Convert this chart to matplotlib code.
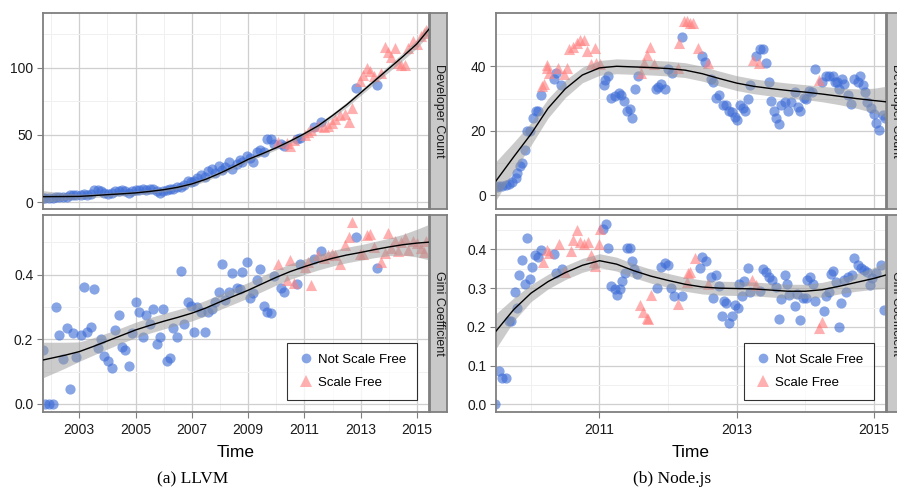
import numpy as np
import matplotlib
matplotlib.use("Agg")
import matplotlib.pyplot as plt
from matplotlib.lines import Line2D

plt.rcParams['font.family'] = ['Liberation Sans', 'DejaVu Sans']

# ---------------- LLVM data ----------------
llvm_t = [2001.72, 2001.79, 2001.94, 2002.08, 2002.17, 2002.29, 2002.41, 2002.55, 2002.67, 2002.79,
          2002.90, 2003.05, 2003.17, 2003.28, 2003.40, 2003.53, 2003.65, 2003.77, 2003.89, 2004.03,
          2004.15, 2004.27, 2004.40, 2004.52, 2004.63, 2004.75, 2004.87, 2005.01, 2005.13, 2005.25,
          2005.37, 2005.51, 2005.63, 2005.75, 2005.86, 2005.98, 2006.10, 2006.22, 2006.34, 2006.48,
          2006.60, 2006.72, 2006.85, 2006.96, 2007.08, 2007.20, 2007.32, 2007.46, 2007.58, 2007.70,
          2007.84, 2007.96, 2008.08, 2008.19, 2008.31, 2008.43, 2008.60, 2008.72, 2008.80, 2008.95,
          2009.07, 2009.19, 2009.31, 2009.43, 2009.56, 2009.68, 2009.80, 2009.93, 2010.05, 2010.17,
          2010.29, 2010.38, 2010.50, 2010.64, 2010.75, 2010.86, 2011.01, 2011.13, 2011.24, 2011.36,
          2011.48, 2011.59, 2011.71, 2011.83, 2011.99, 2012.10, 2012.28, 2012.45, 2012.60, 2012.69,
          2012.83, 2012.96, 2013.08, 2013.22, 2013.34, 2013.46, 2013.59, 2013.73, 2013.85, 2013.96,
          2014.08, 2014.23, 2014.34, 2014.43, 2014.58, 2014.67, 2014.85, 2015.00, 2015.15, 2015.25,
          2015.33]
llvm_gini = [0.167, 0.0, 0.0, 0.0, 0.30, 0.214, 0.139, 0.234, 0.046, 0.219,
             0.146, 0.214, 0.361, 0.224, 0.239, 0.356, 0.174, 0.20, 0.149, 0.134,
             0.11, 0.229, 0.276, 0.177, 0.167, 0.118, 0.219, 0.315, 0.284, 0.206,
             0.276, 0.247, 0.293, 0.186, 0.206, 0.293, 0.134, 0.143, 0.234, 0.206,
             0.413, 0.247, 0.317, 0.304, 0.222, 0.30, 0.284, 0.224, 0.285, 0.293,
             0.317, 0.348, 0.432, 0.322, 0.348, 0.405, 0.36, 0.356, 0.408, 0.438,
             0.329, 0.345, 0.384, 0.418, 0.304, 0.285, 0.281, 0.396, 0.432, 0.36,
             0.346, 0.384, 0.446, 0.374, 0.372, 0.432, 0.425, 0.44, 0.368, 0.449,
             0.46, 0.475, 0.453, 0.46, 0.463, 0.46, 0.432, 0.492, 0.518, 0.562,
             0.518, 0.463, 0.463, 0.523, 0.525, 0.487, 0.422, 0.44, 0.467, 0.528,
             0.482, 0.505, 0.474, 0.50, 0.513, 0.477, 0.503, 0.498, 0.482, 0.47,
             0.503]
llvm_dev = [3, 3, 3, 3, 4, 4, 4, 4, 5, 5,
            5, 5, 6, 5, 6, 9, 9, 8, 7, 6,
            7, 8, 8, 9, 8, 7, 8, 9, 9, 10,
            9, 10, 10, 8, 7, 8, 9, 10, 10, 11,
            11, 13, 16, 15, 16, 18, 20, 19, 23, 25,
            22, 27, 24, 26, 30, 25, 28, 31, 30, 34,
            33, 30, 37, 39, 37, 47, 47, 43, 45, 43,
            42, 44, 42, 46, 47, 48, 50, 52, 54, 56,
            57, 60, 56, 57, 59, 62, 65, 66, 60, 70,
            85, 90, 95, 100, 98, 94, 87, 96, 116, 112,
            108, 115, 104, 102, 102, 115, 120, 118, 124, 126,
            128]
llvm_sf = [0] * 68 + [1, 0, 0, 1, 1, 1, 0, 0, 1, 1, 1, 0, 1, 0, 1, 1, 1, 1, 1, 1, 1, 1,
                      0, 1, 1, 1, 1, 1, 0] + [1] * 14

llvm_fit_t = [2001.71, 2002.5, 2003.0, 2003.5, 2004.0, 2004.5, 2005.0, 2005.5, 2006.0, 2006.5,
              2007.0, 2007.5, 2008.0, 2008.5, 2009.0, 2009.5, 2010.0, 2010.5, 2011.0, 2011.5,
              2012.0, 2012.5, 2013.0, 2013.5, 2014.0, 2014.5, 2015.0, 2015.43]
llvm_dev_fit = [4.0, 4.1, 4.2, 4.8, 5.5, 6.1, 6.8, 7.9, 9.2, 11.0,
                13.5, 17.0, 21.5, 26.5, 31.8, 36.0, 40.5, 45.5, 51.0, 57.0,
                64.5, 72.5, 81.5, 90.5, 99.5, 108.5, 118.0, 129.0]
llvm_dev_se = [4.5, 2.5, 1.8, 1.5, 1.5, 1.5, 1.5, 1.5, 1.5, 1.5,
               1.5, 1.5, 1.5, 1.5, 1.5, 1.5, 1.5, 1.5, 1.6, 1.7,
               1.8, 1.9, 2.0, 2.2, 2.5, 2.8, 3.2, 4.0]
llvm_gini_fit = [0.136, 0.151, 0.162, 0.178, 0.195, 0.212, 0.229, 0.243, 0.256, 0.268,
                 0.281, 0.297, 0.316, 0.334, 0.352, 0.372, 0.392, 0.410, 0.425, 0.439,
                 0.451, 0.461, 0.469, 0.478, 0.486, 0.493, 0.498, 0.501]
llvm_gini_se = [0.055, 0.04, 0.03, 0.027, 0.025, 0.024, 0.024, 0.024, 0.024, 0.024,
                0.024, 0.024, 0.024, 0.024, 0.024, 0.024, 0.024, 0.024, 0.024, 0.024,
                0.024, 0.024, 0.024, 0.025, 0.027, 0.032, 0.043, 0.055]

# ---------------- Node.js data ----------------
node_dev_t = [2009.50, 2009.53, 2009.58, 2009.63, 2009.68, 2009.73, 2009.78, 2009.80, 2009.84, 2009.87,
              2009.91, 2009.94, 2009.99, 2010.03, 2010.07, 2010.11, 2010.15, 2010.19, 2010.24, 2010.27,
              2010.33, 2010.37, 2010.40, 2010.44, 2010.48, 2010.52, 2010.55, 2010.61, 2010.67, 2010.72,
              2010.77, 2010.82, 2010.87, 2010.94, 2010.95, 2011.01, 2011.06, 2011.08, 2011.13, 2011.17,
              2011.23, 2011.28, 2011.32, 2011.36, 2011.40, 2011.45, 2011.47, 2011.52, 2011.56, 2011.60,
              2011.65, 2011.70, 2011.74, 2011.79, 2011.82, 2011.86, 2011.90, 2011.96, 2012.00, 2012.06,
              2012.14, 2012.16, 2012.21, 2012.23, 2012.28, 2012.32, 2012.37, 2012.43, 2012.49, 2012.54,
              2012.59, 2012.62, 2012.66, 2012.70, 2012.75, 2012.80, 2012.84, 2012.89, 2012.94, 2012.98,
              2013.01, 2013.05, 2013.09, 2013.12, 2013.16, 2013.20, 2013.24, 2013.28, 2013.32, 2013.34,
              2013.38, 2013.43, 2013.47, 2013.50, 2013.54, 2013.58, 2013.62, 2013.65, 2013.70, 2013.75,
              2013.80, 2013.85, 2013.90, 2013.93, 2013.98, 2014.02, 2014.06, 2014.10, 2014.15, 2014.20,
              2014.25, 2014.30, 2014.35, 2014.40, 2014.43, 2014.47, 2014.50, 2014.54, 2014.57, 2014.62,
              2014.67, 2014.71, 2014.77, 2014.80, 2014.84, 2014.88, 2014.91, 2014.96, 2015.00, 2015.04,
              2015.08, 2015.13, 2015.16, 2010.16, 2010.23]
node_dev = [2.5, 3.0, 3.0, 3.3, 3.5, 4.3, 5.5, 6.9, 9.0, 10.0,
            14.1, 20.0, 20.0, 24.0, 26.0, 26.0, 31.0, 34.6, 39.5, 38.0,
            36.0, 38.0, 39.5, 34.3, 37.5, 39.5, 45.4, 46.0, 47.2, 48.2,
            48.0, 44.6, 40.8, 45.7, 41.0, 40.8, 34.3, 35.8, 37.0, 30.2,
            30.7, 31.7, 31.0, 29.2, 26.0, 26.7, 24.0, 33.0, 36.9, 38.0,
            41.0, 43.5, 46.0, 40.8, 33.0, 33.5, 34.5, 33.0, 39.2, 38.0,
            39.5, 47.2, 49.1, 54.0, 54.0, 53.5, 53.4, 45.7, 43.3, 41.2,
            41.0, 36.0, 35.0, 30.2, 31.0, 28.1, 28.0, 26.3, 25.8, 24.3,
            23.3, 28.0, 27.0, 26.0, 30.0, 34.3, 42.0, 43.3, 41.0, 45.2,
            45.2, 41.0, 35.0, 29.1, 26.0, 24.0, 22.2, 28.0, 29.0, 26.0,
            28.8, 31.9, 27.3, 26.3, 30.2, 30.0, 32.2, 32.0, 39.2, 35.8,
            35.0, 37.0, 37.0, 37.0, 35.0, 35.0, 33.0, 36.0, 34.5, 31.2,
            28.4, 36.0, 35.2, 37.0, 34.3, 32.0, 29.0, 27.0, 25.3, 22.4,
            20.2, 25.0, 24.0, 34.0, 40.3]
node_dev_sf = [0] * 17 + [1, 1, 1, 0, 0, 1, 0, 1, 1, 1, 1, 1, 1,
                          1, 1, 1, 1, 1, 1, 0, 0, 0, 0,
                          0, 0, 0, 0, 0, 0, 0, 0, 0, 1,
                          1, 1, 1, 1, 0, 0, 0, 0, 0, 0,
                          1, 1, 0, 1, 1, 1, 1, 1, 0, 0,
                          1] + [0] * 15 + [1, 0, 1] + [0] * 20 + [1] + [0] * 23 + [1, 1]

node_gini_t = [2009.48, 2009.53, 2009.58, 2009.63, 2009.68, 2009.71, 2009.76, 2009.80, 2009.83, 2009.87,
               2009.91, 2009.94, 2009.98, 2010.02, 2010.06, 2010.10, 2010.14, 2010.17, 2010.23, 2010.27,
               2010.33, 2010.37, 2010.41, 2010.45, 2010.50, 2010.58, 2010.62, 2010.67, 2010.72, 2010.77,
               2010.83, 2010.87, 2010.92, 2010.94, 2010.99, 2011.01, 2011.05, 2011.10, 2011.13, 2011.17,
               2011.22, 2011.25, 2011.30, 2011.33, 2011.37, 2011.40, 2011.44, 2011.47, 2011.51, 2011.54,
               2011.59, 2011.64, 2011.69, 2011.71, 2011.75, 2011.84, 2011.90, 2011.95, 2012.00, 2012.05,
               2012.09, 2012.14, 2012.20, 2012.27, 2012.29, 2012.32, 2012.39, 2012.47, 2012.50, 2012.55,
               2012.59, 2012.62, 2012.66, 2012.70, 2012.75, 2012.78, 2012.81, 2012.85, 2012.89, 2012.93,
               2012.97, 2013.02, 2013.04, 2013.08, 2013.11, 2013.16, 2013.19, 2013.23, 2013.28, 2013.34,
               2013.39, 2013.43, 2013.48, 2013.51, 2013.57, 2013.62, 2013.65, 2013.70, 2013.74, 2013.77,
               2013.85, 2013.88, 2013.92, 2013.97, 2014.01, 2014.03, 2014.07, 2014.11, 2014.15, 2014.20,
               2014.24, 2014.27, 2014.31, 2014.35, 2014.38, 2014.41, 2014.45, 2014.49, 2014.52, 2014.56,
               2014.60, 2014.63, 2014.68, 2014.72, 2014.77, 2014.81, 2014.86, 2014.90, 2014.94, 2014.98,
               2015.04, 2015.10, 2015.15]
node_gini = [0.0, 0.085, 0.068, 0.068, 0.215, 0.215, 0.289, 0.249, 0.334, 0.372,
             0.31, 0.43, 0.323, 0.355, 0.385, 0.381, 0.398, 0.368, 0.398, 0.39,
             0.387, 0.338, 0.415, 0.35, 0.342, 0.395, 0.424, 0.45, 0.42, 0.415,
             0.42, 0.385, 0.368, 0.358, 0.415, 0.454, 0.454, 0.467, 0.403, 0.306,
             0.299, 0.283, 0.299, 0.318, 0.34, 0.403, 0.403, 0.37, 0.35, 0.337,
             0.256, 0.239, 0.222, 0.22, 0.282, 0.30, 0.355, 0.365, 0.36, 0.30,
             0.28, 0.258, 0.28, 0.316, 0.34, 0.342, 0.377, 0.352, 0.381, 0.37,
             0.31, 0.329, 0.275, 0.334, 0.306, 0.228, 0.266, 0.262, 0.211, 0.228,
             0.256, 0.25, 0.31, 0.28, 0.318, 0.352, 0.289, 0.32, 0.307, 0.292,
             0.349, 0.342, 0.329, 0.32, 0.303, 0.22, 0.272, 0.334, 0.312, 0.282,
             0.253, 0.286, 0.217, 0.275, 0.275, 0.32, 0.329, 0.31, 0.266, 0.196,
             0.213, 0.24, 0.28, 0.29, 0.336, 0.345, 0.316, 0.20, 0.262, 0.322,
             0.29, 0.33, 0.333, 0.378, 0.36, 0.352, 0.346, 0.342, 0.308, 0.327,
             0.338, 0.36, 0.243]
node_gini_sf = [0] * 17 + [1, 1, 1, 0, 0, 1, 0, 1, 1, 1, 1, 1, 1,
                           1, 1, 1, 1, 1, 1, 0, 0, 0, 0,
                           0, 0, 0, 0, 0, 0, 0, 0, 0, 0,
                           1, 1, 1, 1, 1, 0, 0, 0, 0, 0,
                           0, 1, 0, 1, 1, 1, 1, 0, 0, 0,
                           1] + [0] * 16 + [1, 1] + [0] * 20 + [1, 1] + [0] * 22

node_fit_t = [2009.49, 2009.75, 2010.0, 2010.25, 2010.5, 2010.75, 2011.0, 2011.25, 2011.5, 2011.75,
              2012.0, 2012.25, 2012.5, 2012.75, 2013.0, 2013.25, 2013.5, 2013.75, 2014.0, 2014.25,
              2014.5, 2014.75, 2015.0, 2015.18]
node_dev_fit = [4.5, 12.0, 19.0, 27.0, 33.0, 37.3, 39.5, 40.0, 39.8, 39.6,
                39.3, 38.8, 37.7, 36.2, 34.8, 33.8, 33.1, 32.5, 32.0, 31.4,
                30.7, 30.0, 29.4, 29.0]
node_dev_se = [6.0, 4.5, 3.5, 3.0, 2.7, 2.4, 2.3, 2.3, 2.3, 2.3,
               2.3, 2.3, 2.3, 2.3, 2.3, 2.3, 2.3, 2.3, 2.3, 2.4,
               2.6, 3.0, 3.8, 4.8]
node_gini_fit = [0.189, 0.245, 0.287, 0.317, 0.340, 0.359, 0.371, 0.362, 0.345, 0.331,
                 0.320, 0.310, 0.303, 0.300, 0.299, 0.298, 0.295, 0.292, 0.292, 0.296,
                 0.305, 0.315, 0.325, 0.334]
node_gini_se = [0.045, 0.03, 0.022, 0.019, 0.018, 0.018, 0.018, 0.018, 0.018, 0.018,
                0.018, 0.018, 0.018, 0.018, 0.018, 0.018, 0.018, 0.018, 0.018, 0.019,
                0.02, 0.023, 0.028, 0.035]

legend_labels = ["Not Scale Free", "Scale Free"]
strip_labels = ["Developer Count", "Gini Coefficient"]

# ---------------- styling ----------------
W, H = 897, 497
BLUE = '#3d6cd6'
PINK = '#ff7f7f'
GRID = '#cfcfcf'
MINOR = '#f0f0f0'
BORDER = '#7f7f7f'
A_BLUE = 0.62
A_PINK = 0.62

fig = plt.figure(figsize=(W / 100, H / 100), dpi=100)


def px_axes(x0, y0, x1, y1, **kw):
    return fig.add_axes([x0 / W, 1 - y1 / H, (x1 - x0) / W, (y1 - y0) / H], **kw)


def style(ax, xlim, ylim, xmaj, xmin, ymaj, ymin, yfmt, show_x):
    ax.set_xlim(*xlim)
    ax.set_ylim(*ylim)
    ax.set_xticks(xmaj)
    ax.set_xticks(xmin, minor=True)
    ax.set_yticks(ymaj)
    ax.set_yticks(ymin, minor=True)
    ax.set_yticklabels([yfmt.format(v) for v in ymaj])
    ax.grid(True, which='major', color=GRID, lw=0.9, zorder=0)
    ax.grid(True, which='minor', color=MINOR, lw=0.7, zorder=0)
    ax.set_axisbelow(True)
    for s in ax.spines.values():
        s.set_color(BORDER)
        s.set_linewidth(1.3)
    ax.tick_params(which='minor', length=0)
    ax.tick_params(axis='y', which='major', length=4, width=0.8, color=BORDER,
                   labelsize=10, pad=3, labelcolor='#1a1a1a')
    if show_x:
        ax.set_xticklabels([str(v) for v in xmaj])
        ax.tick_params(axis='x', which='major', length=4, width=0.8, color=BORDER,
                       labelsize=10, pad=4, labelcolor='#1a1a1a')
        ax.set_xlabel("Time", fontsize=12.5, labelpad=6)
    else:
        ax.tick_params(axis='x', which='major', length=0, labelbottom=False)


def strip(x0, y0, x1, y1, label):
    sa = px_axes(x0, y0, x1, y1)
    sa.set_facecolor('#c9c9c9')
    sa.set_xticks([])
    sa.set_yticks([])
    for s in sa.spines.values():
        s.set_color(BORDER)
        s.set_linewidth(1.3)
    sa.text(0.5, 0.5, label, rotation=-90, ha='center', va='center',
            fontsize=9, transform=sa.transAxes, color='#1a1a1a')


def draw(ax, t, v, sf, ft, fv, fse):
    t = np.asarray(t); v = np.asarray(v); sf = np.asarray(sf, dtype=bool)
    ft = np.asarray(ft); fv = np.asarray(fv); fse = np.asarray(fse)
    ax.scatter(t[~sf], v[~sf], s=54, marker='o', color=BLUE, alpha=A_BLUE, linewidths=0, zorder=2,
               clip_on=True)
    ax.scatter(t[sf], v[sf], s=64, marker='^', color=PINK, alpha=A_PINK, linewidths=0, zorder=2,
               clip_on=True)
    ax.fill_between(ft, fv - fse, fv + fse, color='#999999', alpha=0.5, lw=0, zorder=3)
    ax.plot(ft, fv, color='black', lw=1.0, zorder=4)


def legend(ax, right_px, bottom_px):
    handles = [Line2D([], [], marker='o', ls='none', color=BLUE, alpha=A_BLUE, markersize=7,
                      markeredgewidth=0),
               Line2D([], [], marker='^', ls='none', color=PINK, alpha=A_PINK, markersize=8.5,
                      markeredgewidth=0)]
    leg = ax.legend(handles, legend_labels, loc='lower right',
                    bbox_to_anchor=(right_px / W, 1 - bottom_px / H),
                    bbox_transform=fig.transFigure, fontsize=9.5, frameon=True,
                    fancybox=False, edgecolor='black', borderpad=0.85, handletextpad=0.35,
                    labelspacing=0.8, handlelength=1.1, borderaxespad=0)
    leg.get_frame().set_linewidth(0.8)
    leg.set_zorder(10)


# LLVM
llvm_xlim = (2001.71, 2015.43)
llvm_xmaj = [2003, 2005, 2007, 2009, 2011, 2013, 2015]
llvm_xmin = [2002, 2004, 2006, 2008, 2010, 2012, 2014]

a1 = px_axes(43, 13, 429, 209)
draw(a1, llvm_t, llvm_dev, llvm_sf, llvm_fit_t, llvm_dev_fit, llvm_dev_se)
style(a1, llvm_xlim, (-5.2, 141), llvm_xmaj, llvm_xmin, [0, 50, 100], [25, 75, 125], "{:d}", False)
strip(430, 13, 447, 209, strip_labels[0])

a2 = px_axes(43, 215, 429, 412)
draw(a2, llvm_t, llvm_gini, llvm_sf, llvm_fit_t, llvm_gini_fit, llvm_gini_se)
style(a2, llvm_xlim, (-0.025, 0.585), llvm_xmaj, llvm_xmin, [0.0, 0.2, 0.4], [0.1, 0.3, 0.5],
      "{:.1f}", True)
strip(430, 215, 447, 412, strip_labels[1])
legend(a2, 417, 400)

# Node.js
node_xlim = (2009.49, 2015.18)
node_xmaj = [2011, 2013, 2015]
node_xmin = [2010, 2012, 2014]

b1 = px_axes(496, 13, 886, 209)
draw(b1, node_dev_t, node_dev, node_dev_sf, node_fit_t, node_dev_fit, node_dev_se)
style(b1, node_xlim, (-4.2, 56.5), node_xmaj, node_xmin, [0, 20, 40], [10, 30, 50], "{:d}", False)
strip(887, 13, 904, 209, strip_labels[0])

b2 = px_axes(496, 215, 886, 412)
draw(b2, node_gini_t, node_gini, node_gini_sf, node_fit_t, node_gini_fit, node_gini_se)
style(b2, node_xlim, (-0.02, 0.489), node_xmaj, node_xmin, [0.0, 0.1, 0.2, 0.3, 0.4],
      [0.05, 0.15, 0.25, 0.35, 0.45], "{:.1f}", True)
strip(887, 215, 904, 412, strip_labels[1])
legend(b2, 874, 400)

# captions
fig.text(193 / W, 1 - 479 / H, "(a) LLVM", ha='center', va='center', fontsize=12.5,
         family=['Liberation Serif', 'DejaVu Serif'])
fig.text(672 / W, 1 - 479 / H, "(b) Node.js", ha='center', va='center', fontsize=12.5,
         family=['Liberation Serif', 'DejaVu Serif'])

fig.savefig("out.png", dpi=100)
